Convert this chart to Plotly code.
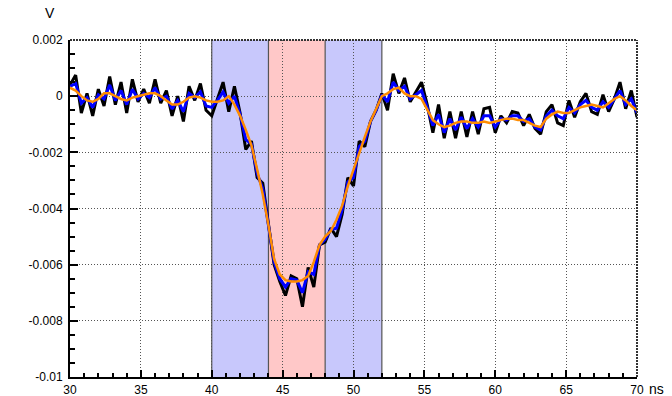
import plotly.graph_objects as go

# Sample times (ns) and the three waveforms (mV): raw, lightly smoothed, smoothed
t_ns = [30 + 0.4 * i for i in range(101)]

raw_mv = [
    0.4, 0.75, -0.6, 0.1, -0.7, 0.25, -0.35, 0.7, -0.3, 0.5,
    -0.6, 0.6, -0.2, 0.25, -0.25, 0.6, -0.25, 0.2, -0.7, 0.0,
    -0.9, 0.35, -0.15, 0.45, -0.5, -0.7, -0.1, 0.5, -0.55, 0.35,
    -0.6, -1.9, -1.6, -2.9, -3.1, -4.6, -6.0, -6.6, -7.1, -6.4,
    -6.5, -7.5, -6.1, -6.8, -5.3, -5.2, -4.7, -5.0, -4.2, -2.9,
    -3.2, -1.6, -1.8, -0.9, -0.5, 0.1, -0.5, 0.8, 0.1, 0.65,
    -0.2, 0.15, 0.5, -0.3, -1.3, -0.3, -1.5, -0.55, -1.5, -0.55,
    -1.45, -0.55, -1.35, -0.45, -0.4, -1.3, -0.7, -0.95, -0.55, -0.6,
    -1.05, -0.65, -1.15, -1.35, -0.55, -0.3, -0.95, -1.05, -0.15, -0.75,
    -0.2, 0.1, -0.55, -0.65, 0.05, -0.55, -0.1, 0.5, -0.45, 0.2,
    -0.75,
]

filtered_mv = [
    0.35, 0.45, -0.25, -0.05, -0.4, 0.05, -0.1, 0.4, -0.15, 0.2,
    -0.3, 0.25, -0.1, 0.1, -0.05, 0.3, -0.1, 0.0, -0.45, -0.15,
    -0.55, 0.1, -0.05, 0.15, -0.35, -0.4, -0.15, 0.15, -0.25, 0.0,
    -0.65, -1.55, -1.7, -2.75, -3.3, -4.6, -5.9, -6.5, -6.8, -6.5,
    -6.55, -7.0, -6.25, -6.35, -5.3, -5.1, -4.75, -4.7, -4.05, -3.05,
    -2.9, -1.8, -1.6, -0.9, -0.5, 0.05, -0.2, 0.5, 0.2, 0.35,
    -0.1, 0.05, 0.2, -0.4, -1.05, -0.65, -1.3, -0.8, -1.2, -0.75,
    -1.15, -0.8, -1.1, -0.7, -0.7, -1.1, -0.8, -0.85, -0.7, -0.7,
    -0.9, -0.8, -1.1, -1.2, -0.7, -0.5, -0.7, -0.8, -0.4, -0.6,
    -0.3, -0.15, -0.4, -0.5, -0.2, -0.4, -0.1, 0.2, -0.3, -0.1,
    -0.6,
]

smooth_mv = [
    0.3, 0.2, 0.0, -0.15, -0.2, -0.1, 0.1, 0.1, 0.0, -0.1,
    -0.15, -0.05, 0.0, 0.05, 0.1, 0.1, 0.0, -0.15, -0.3, -0.3,
    -0.2, -0.05, 0.0, -0.05, -0.15, -0.2, -0.2, -0.15, 0.0, -0.3,
    -0.7, -1.2, -1.75, -2.6, -3.5, -4.6, -5.8, -6.35, -6.55, -6.6,
    -6.6, -6.55, -6.4, -5.9, -5.3, -5.0, -4.8, -4.4, -3.9, -3.2,
    -2.6, -2.0, -1.45, -0.9, -0.45, 0.0, 0.1, 0.25, 0.3, 0.1,
    0.0, 0.0, -0.1, -0.5, -0.85, -1.0, -1.1, -1.05, -0.95, -0.9,
    -0.9, -0.95, -0.95, -0.9, -0.95, -0.9, -0.85, -0.8, -0.8, -0.85,
    -0.85, -0.95, -1.05, -1.1, -0.8, -0.65, -0.55, -0.6, -0.6, -0.5,
    -0.4, -0.35, -0.3, -0.35, -0.4, -0.25, -0.1, 0.0, -0.15, -0.35,
    -0.5,
]

# Integration windows (ns): pre-window, peak window, post-window
window_edges = [40, 44, 48, 52]
window_fills = ["rgb(200,200,252)", "rgb(255,200,200)", "rgb(200,200,252)"]

x_ticks = [30, 35, 40, 45, 50, 55, 60, 65, 70]
y_ticks = [0.002, 0, -0.002, -0.004, -0.006, -0.008, -0.01]
y_tick_text = ["0.002", "0", "-0.002", "-0.004", "-0.006", "-0.008", "-0.01"]


def to_volts(values_mv):
    return [v / 1000.0 for v in values_mv]


fig = go.Figure()

fig.add_trace(go.Scatter(x=t_ns, y=to_volts(raw_mv), mode="lines",
                         line=dict(color="black", width=3), hoverinfo="skip"))
fig.add_trace(go.Scatter(x=t_ns, y=to_volts(filtered_mv), mode="lines",
                         line=dict(color="#0000ff", width=3), hoverinfo="skip"))
fig.add_trace(go.Scatter(x=t_ns, y=to_volts(smooth_mv), mode="lines",
                         line=dict(color="#ff8c00", width=2.5), hoverinfo="skip"))

# Shaded windows sit under the grid
for x0, x1, fill in zip(window_edges[:-1], window_edges[1:], window_fills):
    fig.add_shape(type="rect", xref="x", yref="paper", x0=x0, x1=x1, y0=0, y1=1,
                  fillcolor=fill, line=dict(width=0), layer="below")
for xe in window_edges:
    fig.add_shape(type="line", xref="x", yref="paper", x0=xe, x1=xe, y0=0, y1=1,
                  line=dict(color="#555555", width=1.2), layer="below")

# Dotted frame on the top and right sides
fig.add_shape(type="line", xref="paper", yref="paper", x0=0, x1=1, y0=1, y1=1,
              line=dict(color="#333333", width=2, dash="2px,1px"))
fig.add_shape(type="line", xref="paper", yref="paper", x0=1, x1=1, y0=0, y1=1,
              line=dict(color="#333333", width=2, dash="2px,1px"))

font = dict(family="Liberation Sans, Arial, sans-serif", size=12, color="black")

fig.update_xaxes(
    range=[30, 70], tickvals=x_ticks, ticktext=[str(v) for v in x_ticks],
    showline=True, linecolor="black", linewidth=2,
    ticks="inside", ticklen=7, tickwidth=1.5, tickcolor="black",
    minor=dict(dtick=1, ticks="inside", ticklen=4, tickcolor="black", showgrid=False),
    showgrid=True, gridcolor="#555555", griddash="1px,2px", gridwidth=1,
    zeroline=False, tickfont=font, automargin=False, ticklabelstandoff=1,
)
fig.update_yaxes(
    range=[-0.01, 0.002], tickvals=y_ticks, ticktext=y_tick_text,
    showline=True, linecolor="black", linewidth=2,
    ticks="inside", ticklen=8, tickwidth=1.5, tickcolor="black",
    minor=dict(dtick=0.0005, tick0=0, ticks="inside", ticklen=5, tickcolor="black", showgrid=False),
    showgrid=True, gridcolor="#555555", griddash="1px,2px", gridwidth=1,
    zeroline=False, tickfont=font, automargin=False, ticklabelstandoff=3,
)

fig.add_annotation(text="V", xref="paper", yref="paper", x=-0.035, y=1.05,
                   xanchor="center", yanchor="bottom", showarrow=False,
                   font=dict(family="Liberation Sans, Arial, sans-serif", size=14, color="black"))
fig.add_annotation(text="ns", xref="paper", yref="paper", x=1.018, y=-0.005,
                   xanchor="left", yanchor="top", showarrow=False,
                   font=dict(family="Liberation Sans, Arial, sans-serif", size=14, color="black"))

fig.update_layout(
    width=672, height=396,
    margin=dict(l=70, r=35, t=40, b=19),
    paper_bgcolor="white", plot_bgcolor="white",
    showlegend=False,
)

fig.write_html("out.html")
